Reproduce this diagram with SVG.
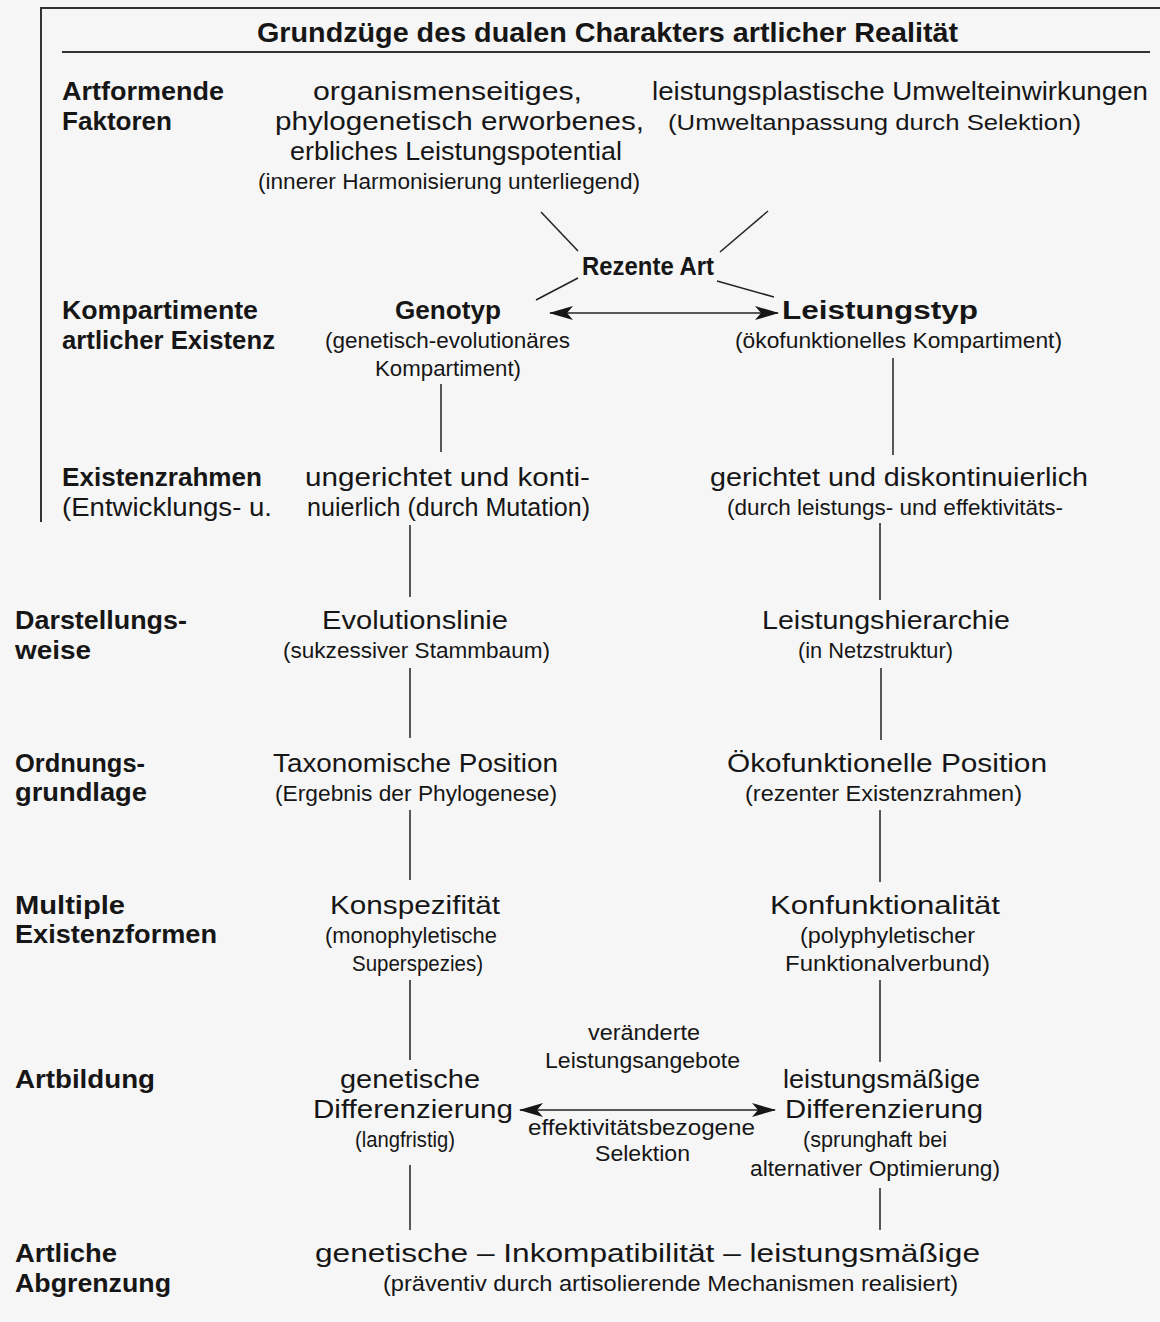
<svg xmlns="http://www.w3.org/2000/svg" width="1160" height="1322" viewBox="0 0 1160 1322">
<defs>
<style>
text{font-family:"Liberation Sans","DejaVu Sans",sans-serif;fill:#161616;}
.t{font-size:28px;font-weight:700;}
.lb{font-size:25px;font-weight:700;}
.m{font-size:25px;}
.s{font-size:22px;}
.ln{stroke:#222;stroke-width:1.5;fill:none;}
.fr{stroke:#333;stroke-width:2;fill:none;}
</style>
<marker id="ah" viewBox="0 0 24 14" refX="23" refY="7" markerWidth="24" markerHeight="14" markerUnits="userSpaceOnUse" orient="auto-start-reverse">
<path d="M0,0 L24,7 L0,14 L6,7 Z" fill="#161616"/>
</marker>
</defs>
<rect width="1160" height="1322" fill="#f6f6f6"/>

<g id="frame">
<line class="fr" x1="40" y1="8" x2="1160" y2="8"/>
<line class="fr" x1="41" y1="8" x2="41" y2="522"/>
<line class="fr" x1="62" y1="52" x2="1150" y2="52"/>
<text class="t" x="257" y="42" textLength="701" lengthAdjust="spacingAndGlyphs">Grundzüge des dualen Charakters artlicher Realität</text>
</g>

<g id="labels">
<text class="lb" x="62" y="100" textLength="162" lengthAdjust="spacingAndGlyphs">Artformende</text>
<text class="lb" x="62" y="130" textLength="110" lengthAdjust="spacingAndGlyphs">Faktoren</text>
<text class="lb" x="62" y="319" textLength="196" lengthAdjust="spacingAndGlyphs">Kompartimente</text>
<text class="lb" x="62" y="349" textLength="213" lengthAdjust="spacingAndGlyphs">artlicher Existenz</text>
<text class="lb" x="62" y="486" textLength="200" lengthAdjust="spacingAndGlyphs">Existenzrahmen</text>
<text class="m" x="62" y="516" textLength="210" lengthAdjust="spacingAndGlyphs">(Entwicklungs- u.</text>
<text class="lb" x="15" y="629" textLength="172" lengthAdjust="spacingAndGlyphs">Darstellungs-</text>
<text class="lb" x="15" y="659" textLength="76" lengthAdjust="spacingAndGlyphs">weise</text>
<text class="lb" x="15" y="772" textLength="130" lengthAdjust="spacingAndGlyphs">Ordnungs-</text>
<text class="lb" x="15" y="801" textLength="132" lengthAdjust="spacingAndGlyphs">grundlage</text>
<text class="lb" x="15" y="914" textLength="110" lengthAdjust="spacingAndGlyphs">Multiple</text>
<text class="lb" x="15" y="943" textLength="202" lengthAdjust="spacingAndGlyphs">Existenzformen</text>
<text class="lb" x="15" y="1088" textLength="140" lengthAdjust="spacingAndGlyphs">Artbildung</text>
<text class="lb" x="15" y="1262" textLength="102" lengthAdjust="spacingAndGlyphs">Artliche</text>
<text class="lb" x="15" y="1292" textLength="156" lengthAdjust="spacingAndGlyphs">Abgrenzung</text>
</g>

<g id="potential">
<text class="m" x="313" y="100" textLength="269" lengthAdjust="spacingAndGlyphs">organismenseitiges,</text>
<text class="m" x="275" y="130" textLength="369" lengthAdjust="spacingAndGlyphs">phylogenetisch erworbenes,</text>
<text class="m" x="290" y="160" textLength="332" lengthAdjust="spacingAndGlyphs">erbliches Leistungspotential</text>
<text class="s" x="258" y="189" textLength="382" lengthAdjust="spacingAndGlyphs">(innerer Harmonisierung unterliegend)</text>
</g>

<g id="umwelt">
<text class="m" x="652" y="100" textLength="496" lengthAdjust="spacingAndGlyphs">leistungsplastische Umwelteinwirkungen</text>
<text class="s" x="668" y="130" textLength="413" lengthAdjust="spacingAndGlyphs">(Umweltanpassung durch Selektion)</text>
</g>

<g id="rezente-art">
<text class="lb" x="582" y="275" textLength="132" lengthAdjust="spacingAndGlyphs">Rezente Art</text>
</g>

<g id="genotyp">
<text class="lb" x="395" y="319" textLength="106" lengthAdjust="spacingAndGlyphs">Genotyp</text>
<text class="s" x="325" y="348" textLength="245" lengthAdjust="spacingAndGlyphs">(genetisch-evolutionäres</text>
<text class="s" x="375" y="376" textLength="146" lengthAdjust="spacingAndGlyphs">Kompartiment)</text>
</g>

<g id="leistungstyp">
<text class="lb" x="782" y="319" textLength="196" lengthAdjust="spacingAndGlyphs">Leistungstyp</text>
<text class="s" x="735" y="348" textLength="327" lengthAdjust="spacingAndGlyphs">(ökofunktionelles Kompartiment)</text>
</g>

<g id="existenz-links">
<text class="m" x="305" y="486" textLength="285" lengthAdjust="spacingAndGlyphs">ungerichtet und konti-</text>
<text class="m" x="307" y="516" textLength="283" lengthAdjust="spacingAndGlyphs">nuierlich (durch Mutation)</text>
</g>

<g id="existenz-rechts">
<text class="m" x="710" y="486" textLength="378" lengthAdjust="spacingAndGlyphs">gerichtet und diskontinuierlich</text>
<text class="s" x="727" y="515" textLength="336" lengthAdjust="spacingAndGlyphs">(durch leistungs- und effektivitäts-</text>
</g>

<g id="evolutionslinie">
<text class="m" x="322" y="629" textLength="186" lengthAdjust="spacingAndGlyphs">Evolutionslinie</text>
<text class="s" x="283" y="658" textLength="267" lengthAdjust="spacingAndGlyphs">(sukzessiver Stammbaum)</text>
</g>

<g id="leistungshierarchie">
<text class="m" x="762" y="629" textLength="248" lengthAdjust="spacingAndGlyphs">Leistungshierarchie</text>
<text class="s" x="798" y="658" textLength="155" lengthAdjust="spacingAndGlyphs">(in Netzstruktur)</text>
</g>

<g id="taxonomische-position">
<text class="m" x="273" y="772" textLength="285" lengthAdjust="spacingAndGlyphs">Taxonomische Position</text>
<text class="s" x="275" y="801" textLength="282" lengthAdjust="spacingAndGlyphs">(Ergebnis der Phylogenese)</text>
</g>

<g id="oekofunktionelle-position">
<text class="m" x="727" y="772" textLength="320" lengthAdjust="spacingAndGlyphs">Ökofunktionelle Position</text>
<text class="s" x="745" y="801" textLength="277" lengthAdjust="spacingAndGlyphs">(rezenter Existenzrahmen)</text>
</g>

<g id="konspezifitaet">
<text class="m" x="330" y="914" textLength="170" lengthAdjust="spacingAndGlyphs">Konspezifität</text>
<text class="s" x="325" y="943" textLength="172" lengthAdjust="spacingAndGlyphs">(monophyletische</text>
<text class="s" x="352" y="971" textLength="131" lengthAdjust="spacingAndGlyphs">Superspezies)</text>
</g>

<g id="konfunktionalitaet">
<text class="m" x="770" y="914" textLength="230" lengthAdjust="spacingAndGlyphs">Konfunktionalität</text>
<text class="s" x="800" y="943" textLength="175" lengthAdjust="spacingAndGlyphs">(polyphyletischer</text>
<text class="s" x="785" y="971" textLength="205" lengthAdjust="spacingAndGlyphs">Funktionalverbund)</text>
</g>

<g id="genetische-differenzierung">
<text class="m" x="340" y="1088" textLength="140" lengthAdjust="spacingAndGlyphs">genetische</text>
<text class="m" x="313" y="1118" textLength="200" lengthAdjust="spacingAndGlyphs">Differenzierung</text>
<text class="s" x="355" y="1147" textLength="100" lengthAdjust="spacingAndGlyphs">(langfristig)</text>
</g>

<g id="leistungsmaessige-differenzierung">
<text class="m" x="783" y="1088" textLength="197" lengthAdjust="spacingAndGlyphs">leistungsmäßige</text>
<text class="m" x="785" y="1118" textLength="198" lengthAdjust="spacingAndGlyphs">Differenzierung</text>
<text class="s" x="803" y="1147" textLength="144" lengthAdjust="spacingAndGlyphs">(sprunghaft bei</text>
<text class="s" x="750" y="1176" textLength="250" lengthAdjust="spacingAndGlyphs">alternativer Optimierung)</text>
</g>

<g id="artliche-abgrenzung">
<text class="m" x="315" y="1262" textLength="665" lengthAdjust="spacingAndGlyphs">genetische – Inkompatibilität – leistungsmäßige</text>
<text class="s" x="383" y="1291" textLength="575" lengthAdjust="spacingAndGlyphs">(präventiv durch artisolierende Mechanismen realisiert)</text>
</g>

<g id="connectors">
<line class="ln" x1="541" y1="212" x2="578" y2="251"/>
<line class="ln" x1="768" y1="211" x2="720" y2="252"/>
<line class="ln" x1="578" y1="278" x2="536" y2="300"/>
<line class="ln" x1="717" y1="281" x2="774" y2="297"/>
<line class="ln" x1="550" y1="313" x2="778" y2="313" marker-start="url(#ah)" marker-end="url(#ah)"/>
<line class="ln" x1="441" y1="384" x2="441" y2="452"/>
<line class="ln" x1="893" y1="358" x2="893" y2="455"/>
<line class="ln" x1="410" y1="525" x2="410" y2="597"/>
<line class="ln" x1="880" y1="523" x2="880" y2="600"/>
<line class="ln" x1="410" y1="668" x2="410" y2="738"/>
<line class="ln" x1="881" y1="668" x2="881" y2="740"/>
<line class="ln" x1="410" y1="810" x2="410" y2="880"/>
<line class="ln" x1="880" y1="810" x2="880" y2="882"/>
<line class="ln" x1="410" y1="980" x2="410" y2="1060"/>
<line class="ln" x1="880" y1="980" x2="880" y2="1062"/>
<line class="ln" x1="520" y1="1110" x2="775" y2="1110" marker-start="url(#ah)" marker-end="url(#ah)"/>
<line class="ln" x1="410" y1="1165" x2="410" y2="1230"/>
<line class="ln" x1="880" y1="1188" x2="880" y2="1230"/>
</g>

<g id="selektion-labels">
<text class="s" x="588" y="1040" textLength="112" lengthAdjust="spacingAndGlyphs">veränderte</text>
<text class="s" x="545" y="1068" textLength="195" lengthAdjust="spacingAndGlyphs">Leistungsangebote</text>
<text class="s" x="528" y="1135" textLength="227" lengthAdjust="spacingAndGlyphs">effektivitätsbezogene</text>
<text class="s" x="595" y="1161" textLength="95" lengthAdjust="spacingAndGlyphs">Selektion</text>
</g>
</svg>
